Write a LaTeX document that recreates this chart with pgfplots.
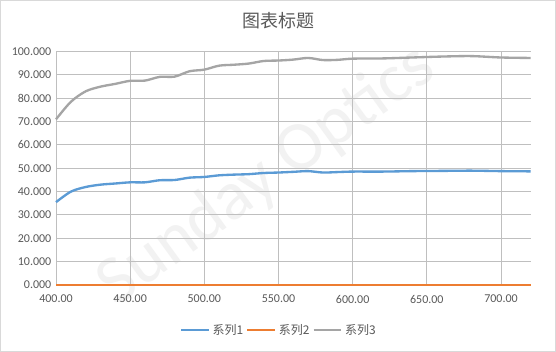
\documentclass[border=0pt]{standalone}
\usepackage{pgfplots}
\pgfplotsset{compat=1.18}
\usepackage{fontspec}
\setmainfont{Carlito}
\newfontfamily\cjk{Noto Sans CJK SC}
\definecolor{s1}{HTML}{5B9BD5}
\definecolor{s2}{HTML}{ED7D31}
\definecolor{s3}{HTML}{A5A5A5}
\definecolor{txt}{HTML}{595959}
\definecolor{grid}{HTML}{D9D9D9}
\begin{document}
\begin{tikzpicture}
\draw[grid, line width=0.75pt, fill=white] (0.375pt,0.375pt) rectangle (416.625pt,263.625pt);
\node[txt, font=\cjk\fontsize{13.5}{16}\selectfont] at (208.5pt,248.5pt) {图表标题};
\node[rotate=36, text=black!5, font=\fontsize{52}{60}\selectfont] at (200pt,132pt) {Sunday Optics};
\begin{axis}[
  at={(42pt,50.25pt)}, anchor=south west,
  scale only axis, width=356pt, height=175pt,
  xmin=400, xmax=720, ymin=0, ymax=100,
  xtick={400,450,...,700}, ytick={0,10,...,100},
  axis line style={draw=none},
  tick style={draw=none},
  grid=major, major grid style={grid, line width=0.75pt},
  xticklabel style={txt, font=\fontsize{9}{10}\selectfont, yshift=-4pt},
  yticklabel style={txt, font=\fontsize{9}{10}\selectfont},
  /pgf/number format/assume math mode=true,
  xticklabel={\pgfmathprintnumber[fixed,fixed zerofill,precision=2]{\tick}},
  yticklabel={\pgfmathprintnumber[fixed,fixed zerofill,precision=3,1000 sep={}]{\tick}},
  legend style={at={(0.47,-0.193)}, anchor=center, draw=none, fill=none, legend columns=3,
     font=\cjk\fontsize{9}{10}\selectfont, text=txt, column sep=0pt,
     nodes={inner xsep=2pt, inner ysep=1pt}},
  legend image code/.code={\draw[#1, line width=2pt] (0pt,0pt) -- (20.7pt,0pt);},
  clip=false,
]
\addplot[s1, line width=1.75pt, smooth] coordinates {
(400,35.5)(410,40.0)(420,42.0)(430,43.0)(440,43.5)(450,44.0)(460,44.0)(470,44.9)(480,45.0)(490,46.0)
(500,46.3)(510,47.0)(520,47.3)(530,47.5)(540,48.0)(550,48.2)(560,48.5)(570,48.8)(580,48.2)(590,48.4)
(600,48.6)(620,48.6)(640,48.8)(660,48.9)(680,49.0)(700,48.8)(720,48.7)};
\addlegendentry{系列1}
\addplot[s2, line width=1.75pt] coordinates {(400,0)(500,0)(600,0)(720,0)};
\addlegendentry{系列2}
\addplot[s3, line width=1.75pt, smooth] coordinates {
(400,71.0)(410,78.5)(420,83.0)(430,85.0)(440,86.2)(450,87.5)(460,87.6)(470,89.2)(480,89.3)(490,91.6)
(500,92.3)(510,94.0)(520,94.4)(530,94.9)(540,96.0)(550,96.2)(560,96.6)(570,97.3)(580,96.4)(590,96.5)
(600,97.0)(620,97.1)(640,97.5)(660,97.9)(680,98.1)(700,97.5)(720,97.3)};
\addlegendentry{系列3}
\end{axis}
\end{tikzpicture}
\end{document}
